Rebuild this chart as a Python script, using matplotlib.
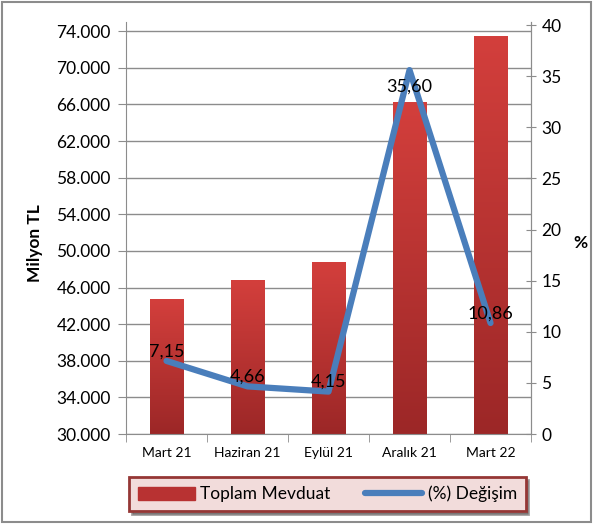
import numpy as np
import matplotlib.pyplot as plt
from matplotlib.patches import Rectangle
from matplotlib.colors import LinearSegmentedColormap

# data
donemler = ['Mart 21', 'Haziran 21', 'Eylül 21', 'Aralık 21', 'Mart 22']
mevduat = [44700, 46800, 48700, 66200, 73400]   # Milyon TL
degisim = [7.15, 4.66, 4.15, 35.60, 10.86]      # %
degisim_etiket = ['7,15', '4,66', '4,15', '35,60', '10,86']

plt.rcParams['font.family'] = ['Lato', 'DejaVu Sans']

fig = plt.figure(figsize=(5.93, 5.25), dpi=100)
ax = fig.add_axes([0.2125, 0.1733, 0.683, 0.7847])
x = np.arange(len(donemler))
bw = 0.41

# bars with a vertical red gradient
cmap = LinearSegmentedColormap.from_list('rd', ['#9c2727', '#d33f3c'])
grad = np.linspace(0, 1, 256).reshape(-1, 1)
bars = ax.bar(x, mevduat, width=bw, bottom=0, color='none', zorder=2)
for b in bars:
    x0, w, h = b.get_x(), b.get_width(), b.get_height()
    ax.imshow(grad, extent=[x0, x0 + w, 30000, h], origin='lower',
              cmap=cmap, aspect='auto', zorder=2)
ax.set_xlim(-0.5, len(donemler) - 0.5)
ax.set_ylim(30000, 75000)
ax.set_yticks(range(30000, 75000, 4000))
ax.set_yticklabels([f'{v // 1000}.000' for v in range(30000, 75000, 4000)], fontsize=12.5)
ax.yaxis.grid(True, color='#8c8c8c', lw=1)
ax.set_axisbelow(True)
ax.set_xticks(x)
ax.set_xticklabels(donemler, fontsize=10)
ax.set_xticks(np.arange(-0.5, len(donemler)), minor=True)
ax.tick_params(axis='x', which='major', length=0, pad=9)
ax.tick_params(axis='x', which='minor', length=6, color='#8c8c8c', direction='out')
ax.tick_params(axis='y', length=6, color='#8c8c8c', direction='out', pad=5)
ax.spines['top'].set_visible(False)
for s in ['left', 'bottom', 'right']:
    ax.spines[s].set_color('#8c8c8c')
ax.set_ylabel('Milyon TL', fontsize=12.5, fontweight='bold')
ax.yaxis.set_label_coords(-0.205, 0.464)

ax2 = ax.twinx()
ln, = ax2.plot(x, degisim, color='#4a7ebb', lw=4.5, solid_capstyle='round',
               solid_joinstyle='round', zorder=3)
ax2.set_ylim(0, 40.3)
ax2.set_yticks(range(0, 41, 5))
ax2.tick_params(axis='y', length=7, color='#8c8c8c', direction='inout', labelsize=12.5, pad=4)
for s in ['top', 'left', 'bottom']:
    ax2.spines[s].set_visible(False)
ax2.spines['right'].set_color('#8c8c8c')
ax2.set_ylabel('%', rotation=0, fontsize=12.5, fontweight='bold', va='center', ha='center')
ax2.yaxis.set_label_coords(1.121, 0.464)

for i, (v, t) in enumerate(zip(degisim, degisim_etiket)):
    dy = -12 if v > 30 else 7
    ax2.annotate(t, (x[i], v), xytext=(0, dy), textcoords='offset points',
                 ha='center', va='center', fontsize=13, zorder=4)

# legend
leg = fig.legend([Rectangle((0, 0), 1, 1, color='#b83232'), ln],
                 ['Toplam Mevduat', '(%) Değişim'],
                 loc='center', bbox_to_anchor=(0.552, 0.059), ncol=2,
                 fontsize=12.5, frameon=True, fancybox=False, shadow=True,
                 handlelength=3.3, handleheight=0.75, columnspacing=2.0,
                 borderpad=0.5, handletextpad=0.3, borderaxespad=0)
leg.get_frame().set_facecolor('#f2dcdb')
leg.get_frame().set_edgecolor('#953735')
leg.get_frame().set_linewidth(2)
leg.get_frame().set_alpha(1)

# outer border
fig.patches.append(Rectangle((0.004, 0.006), 0.992, 0.99, transform=fig.transFigure,
                             fill=False, edgecolor='#8c8c8c', lw=1.5))

fig.savefig('out.png', dpi=100)
